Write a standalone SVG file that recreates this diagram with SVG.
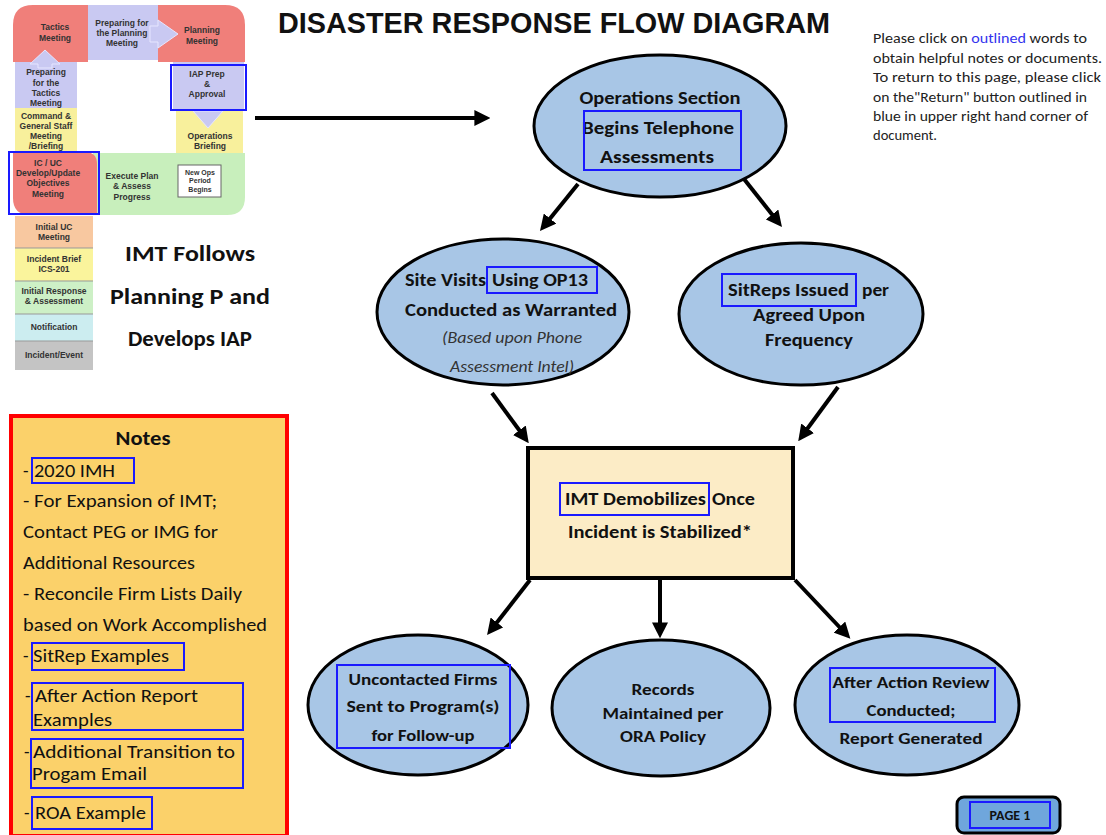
<svg xmlns="http://www.w3.org/2000/svg" width="1106" height="835" viewBox="0 0 1106 835">
<defs>
<style>
.p{font-family:"Liberation Sans",Arial,sans-serif;font-weight:bold;font-size:8.5px;fill:#333;text-anchor:middle}
.b{font-family:Carlito,Lato,"Liberation Sans",sans-serif;font-weight:bold;fill:#111;text-anchor:middle}
.s{text-anchor:start}
.n{font-family:Carlito,Lato,"Liberation Sans",sans-serif;fill:#111;font-size:18px}
.i{font-family:Carlito,Lato,"Liberation Sans",sans-serif;font-style:italic;font-size:16px;fill:#333;text-anchor:middle}
.ell{fill:#a8c6e6;stroke:#000;stroke-width:3}
.lnk{fill:none;stroke:#1a1aff;stroke-width:2}
.con{stroke:#000;stroke-width:4;fill:none;marker-end:url(#ah)}
</style>
<marker id="ah" viewBox="0 0 10 10" refX="6" refY="5" markerWidth="4" markerHeight="4" orient="auto"><path d="M0,0 L10,5 L0,10 z" fill="#000"/></marker>
</defs>
<rect width="1106" height="835" fill="#fff"/>

<g id="planning-p">
<path d="M13,25 Q13,5 33,5 L88,5 L88,62 L13,62 Z" fill="#f07f7a"/>
<rect x="88" y="5" width="70" height="55" fill="#c9c9f2"/>
<path d="M225,5 Q245,5 245,25 L245,62 L158,62 L158,5 Z" fill="#f07f7a"/>
<polygon points="150,26 158,26 158,20 178,34 158,48 158,42 150,42" fill="#c9c9f2" stroke="#e6e6ff" stroke-width="1"/>
<rect x="173" y="62" width="71" height="48" fill="#c9c9f2"/>
<rect x="176" y="110" width="67" height="45" fill="#f8f09c"/>
<polygon points="193,111 223,111 208,128" fill="#c9c9f2" stroke="#e6e6ff" stroke-width="1"/>
<path d="M93,153 L245,153 L245,197 Q245,215 227,215 L93,215 Z" fill="#c8efbc"/>
<rect x="178" y="165" width="43" height="32" fill="#fff" stroke="#666" stroke-width="1"/>
<rect x="15" y="62" width="62" height="46" fill="#c9c9f2"/>
<polygon points="30,64 45,50 60,64 52,64 52,68 38,68 38,64" fill="#c9c9f2" stroke="#e6e6ff" stroke-width="1"/>
<rect x="15" y="108" width="62" height="44" fill="#f8f09c"/>
<path d="M13,152 L85,152 Q97,152 97,164 L97,215 L30,215 Q13,215 13,198 Z" fill="#f07f7a"/>
<rect x="77" y="62" width="96" height="91" rx="10" fill="#fff"/>
<text class="p" x="55" y="30">Tactics</text><text class="p" x="55" y="41">Meeting</text>
<text class="p" x="122" y="26">Preparing for</text><text class="p" x="122" y="36">the Planning</text><text class="p" x="122" y="46">Meeting</text>
<text class="p" x="202" y="33">Planning</text><text class="p" x="202" y="44">Meeting</text>
<text class="p" x="207" y="77">IAP Prep</text><text class="p" x="207" y="87">&amp;</text><text class="p" x="207" y="97">Approval</text>
<text class="p" x="210" y="139">Operations</text><text class="p" x="210" y="149">Briefing</text>
<text class="p" x="200" y="175" style="font-size:7px">New Ops</text><text class="p" x="200" y="183" style="font-size:7px">Period</text><text class="p" x="200" y="192" style="font-size:7px">Begins</text>
<text class="p" x="132" y="179">Execute Plan</text><text class="p" x="132" y="189">&amp; Assess</text><text class="p" x="132" y="200">Progress</text>
<text class="p" x="48" y="166">IC / UC</text><text class="p" x="48" y="176">Develop/Update</text><text class="p" x="48" y="186">Objectives</text><text class="p" x="48" y="197">Meeting</text>
<text class="p" x="46" y="75">Preparing</text><text class="p" x="46" y="86">for the</text><text class="p" x="46" y="96">Tactics</text><text class="p" x="46" y="106">Meeting</text>
<text class="p" x="46" y="119">Command &amp;</text><text class="p" x="46" y="129">General Staff</text><text class="p" x="46" y="139">Meeting</text><text class="p" x="46" y="149">/Briefing</text>
<rect x="171" y="65" width="75" height="45" class="lnk"/>
<rect x="9" y="152" width="90" height="62" class="lnk"/>
<rect x="15" y="216" width="78" height="32" fill="#f8c8a0"/>
<rect x="15" y="248" width="78" height="33" fill="#faf49c"/>
<rect x="15" y="281" width="78" height="33" fill="#cdf0c6"/>
<rect x="15" y="314" width="78" height="27" fill="#ccedf0"/>
<rect x="15" y="341" width="78" height="29" fill="#c4c4c4"/>
<path d="M15,248 H93 M15,281 H93 M15,314 H93 M15,341 H93" stroke="#999" stroke-width="1"/>
<text class="p" x="54" y="230">Initial UC</text><text class="p" x="54" y="240">Meeting</text>
<text class="p" x="54" y="262">Incident Brief</text><text class="p" x="54" y="272">ICS-201</text>
<text class="p" x="54" y="294">Initial Response</text><text class="p" x="54" y="304">&amp; Assessment</text>
<text class="p" x="54" y="330">Notification</text>
<text class="p" x="54" y="358">Incident/Event</text>
</g>

<g id="imt-label">
<text class="b" x="190" y="261" font-size="22" textLength="130" lengthAdjust="spacingAndGlyphs">IMT Follows</text>
<text class="b" x="190" y="304" font-size="22" textLength="160" lengthAdjust="spacingAndGlyphs">Planning P and</text>
<text class="b" x="190" y="346" font-size="22" textLength="124" lengthAdjust="spacingAndGlyphs">Develops IAP</text>
</g>

<g id="title">
<text x="278" y="33" font-family="'Liberation Sans',Arial,sans-serif" font-weight="bold" font-size="29" fill="#111" textLength="552" lengthAdjust="spacingAndGlyphs">DISASTER RESPONSE FLOW DIAGRAM</text>
</g>

<g id="instructions" font-family="Carlito,Lato,'Liberation Sans',sans-serif" font-size="15" fill="#222">
<text x="873" y="43" textLength="214" lengthAdjust="spacingAndGlyphs">Please click on <tspan fill="#3333ee">outlined</tspan> words to</text>
<text x="873" y="63" textLength="229" lengthAdjust="spacingAndGlyphs">obtain helpful notes or documents.</text>
<text x="873" y="82" textLength="228" lengthAdjust="spacingAndGlyphs">To return to this page, please click</text>
<text x="873" y="102" textLength="214" lengthAdjust="spacingAndGlyphs">on the"Return" button outlined in</text>
<text x="873" y="121" textLength="215" lengthAdjust="spacingAndGlyphs">blue in upper right hand corner of</text>
<text x="873" y="140" textLength="64" lengthAdjust="spacingAndGlyphs">document.</text>
</g>

<g id="connectors">
<line x1="255" y1="118" x2="484" y2="118" class="con"/>
<line x1="578" y1="184" x2="544" y2="226" class="con"/>
<line x1="744" y1="179" x2="778" y2="222" class="con"/>
<line x1="492" y1="393" x2="525" y2="438" class="con"/>
<line x1="838" y1="387" x2="802" y2="436" class="con"/>
<line x1="530" y1="580" x2="491" y2="630" class="con"/>
<line x1="660" y1="580" x2="660" y2="632" class="con"/>
<line x1="795" y1="580" x2="846" y2="634" class="con"/>
</g>

<g id="ops">
<ellipse cx="660" cy="126" rx="126" ry="71" class="ell"/>
<text class="b" x="660" y="104" font-size="17.5" textLength="161" lengthAdjust="spacingAndGlyphs">Operations Section</text>
<text class="b" x="658" y="134" font-size="17.5" textLength="152" lengthAdjust="spacingAndGlyphs">Begins Telephone</text>
<text class="b" x="657" y="163" font-size="17.5" textLength="114" lengthAdjust="spacingAndGlyphs">Assessments</text>
<rect x="584" y="111" width="157" height="59" class="lnk"/>
</g>

<g id="site-visits">
<ellipse cx="503" cy="312" rx="126" ry="73" class="ell"/>
<text class="b s" x="405" y="286" font-size="17.5" textLength="81" lengthAdjust="spacingAndGlyphs">Site Visits</text>
<text class="b s" x="492" y="286" font-size="17.5" textLength="96" lengthAdjust="spacingAndGlyphs">Using OP13</text>
<text class="b" x="511" y="316" font-size="17.5" textLength="212" lengthAdjust="spacingAndGlyphs">Conducted as Warranted</text>
<text class="i" x="512" y="343" textLength="140" lengthAdjust="spacingAndGlyphs">(Based upon  Phone</text>
<text class="i" x="512" y="372" textLength="124" lengthAdjust="spacingAndGlyphs">Assessment Intel)</text>
<rect x="487" y="267" width="110" height="26" class="lnk"/>
</g>

<g id="sitreps">
<ellipse cx="801" cy="314" rx="122" ry="71" class="ell"/>
<text class="b s" x="728" y="296" font-size="17.5" textLength="121" lengthAdjust="spacingAndGlyphs">SitReps Issued</text>
<text class="b s" x="862" y="296" font-size="17.5" textLength="27" lengthAdjust="spacingAndGlyphs">per</text>
<text class="b" x="809" y="321" font-size="17.5" textLength="112" lengthAdjust="spacingAndGlyphs">Agreed Upon</text>
<text class="b" x="809" y="346" font-size="17.5" textLength="88" lengthAdjust="spacingAndGlyphs">Frequency</text>
<rect x="722" y="274" width="134" height="32" class="lnk"/>
</g>

<g id="demob">
<rect x="528" y="448" width="265" height="130" fill="#fcecc6" stroke="#000" stroke-width="4"/>
<text class="b s" x="565" y="505" font-size="17.5" textLength="141" lengthAdjust="spacingAndGlyphs">IMT Demobilizes</text>
<text class="b s" x="712" y="505" font-size="17.5" textLength="43" lengthAdjust="spacingAndGlyphs">Once</text>
<text class="b" x="660" y="538" font-size="17.5" textLength="184" lengthAdjust="spacingAndGlyphs">Incident is Stabilized*</text>
<rect x="560" y="483" width="149" height="32" class="lnk"/>
</g>

<g id="uncontacted">
<ellipse cx="418" cy="705" rx="110" ry="70" class="ell"/>
<text class="b" x="423" y="685" font-size="16.5" textLength="149" lengthAdjust="spacingAndGlyphs">Uncontacted Firms</text>
<text class="b" x="423" y="712" font-size="16.5" textLength="153" lengthAdjust="spacingAndGlyphs">Sent to Program(s)</text>
<text class="b" x="423" y="741" font-size="16.5" textLength="103" lengthAdjust="spacingAndGlyphs">for Follow-up</text>
<rect x="337" y="665" width="173" height="83" class="lnk"/>
</g>

<g id="records">
<ellipse cx="661" cy="708" rx="109" ry="68" class="ell"/>
<text class="b" x="663" y="695" font-size="16.5" textLength="63" lengthAdjust="spacingAndGlyphs">Records</text>
<text class="b" x="663" y="719" font-size="16.5" textLength="121" lengthAdjust="spacingAndGlyphs">Maintained per</text>
<text class="b" x="663" y="742" font-size="16.5" textLength="86" lengthAdjust="spacingAndGlyphs">ORA Policy</text>
</g>

<g id="after-action">
<ellipse cx="907" cy="705" rx="112" ry="70" class="ell"/>
<text class="b" x="911" y="688" font-size="16.5" textLength="157" lengthAdjust="spacingAndGlyphs">After Action Review</text>
<text class="b" x="911" y="716" font-size="16.5" textLength="89" lengthAdjust="spacingAndGlyphs">Conducted;</text>
<text class="b" x="911" y="744" font-size="16.5" textLength="143" lengthAdjust="spacingAndGlyphs">Report Generated</text>
<rect x="830" y="668" width="165" height="54" class="lnk"/>
</g>

<g id="notes">
<rect x="11" y="416" width="276" height="420" fill="#fbd16a" stroke="#ff0000" stroke-width="4"/>
<text class="b" x="143" y="445" font-size="20" textLength="55" lengthAdjust="spacingAndGlyphs">Notes</text>
<text class="n" x="23" y="477">-</text><text class="n" x="34" y="477" textLength="81" lengthAdjust="spacingAndGlyphs">2020 IMH</text>
<text class="n" x="23" y="507" textLength="194" lengthAdjust="spacingAndGlyphs">- For Expansion of IMT;</text>
<text class="n" x="23" y="538" textLength="195" lengthAdjust="spacingAndGlyphs">Contact PEG or IMG for</text>
<text class="n" x="23" y="569" textLength="172" lengthAdjust="spacingAndGlyphs">Additional Resources</text>
<text class="n" x="23" y="600" textLength="219" lengthAdjust="spacingAndGlyphs">- Reconcile Firm Lists Daily</text>
<text class="n" x="23" y="631" textLength="244" lengthAdjust="spacingAndGlyphs">based on Work Accomplished</text>
<text class="n" x="23" y="662">-</text><text class="n" x="33" y="662" textLength="136" lengthAdjust="spacingAndGlyphs">SitRep Examples</text>
<text class="n" x="25" y="702">-</text><text class="n" x="35" y="702" textLength="163" lengthAdjust="spacingAndGlyphs">After Action Report</text>
<text class="n" x="33" y="726" textLength="79" lengthAdjust="spacingAndGlyphs">Examples</text>
<text class="n" x="24" y="758">-</text><text class="n" x="33" y="758" textLength="202" lengthAdjust="spacingAndGlyphs">Additional  Transition to</text>
<text class="n" x="32" y="780" textLength="115" lengthAdjust="spacingAndGlyphs">Progam Email</text>
<text class="n" x="24" y="819">-</text><text class="n" x="35" y="819" textLength="111" lengthAdjust="spacingAndGlyphs">ROA Example</text>
<rect x="32" y="458" width="102" height="25" class="lnk"/>
<rect x="32" y="643" width="152" height="27" class="lnk"/>
<rect x="32" y="683" width="211" height="47" class="lnk"/>
<rect x="31" y="739" width="212" height="49" class="lnk"/>
<rect x="32" y="797" width="120" height="32" class="lnk"/>
</g>

<g id="page-button">
<rect x="957" y="797" width="103" height="36" rx="7" fill="#6fa6dc" stroke="#000" stroke-width="3"/>
<rect x="970" y="802" width="80" height="26" class="lnk"/>
<text class="b" x="1010" y="820" font-size="14">PAGE 1</text>
</g>
</svg>
